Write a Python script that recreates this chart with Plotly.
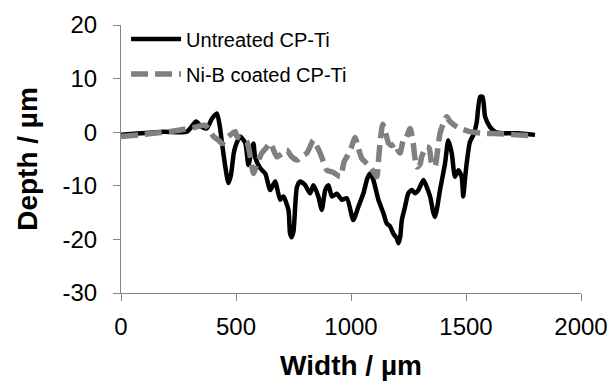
import plotly.graph_objects as go

# Untreated CP-Ti profile (width in µm, depth in µm)
untreated_x = [0, 84, 185, 287, 327, 350, 373, 395, 417, 430, 439, 452, 467, 478, 490, 497,
               518, 540, 554, 565, 576, 583, 605, 627, 649, 670, 692, 706, 728, 735, 742, 750,
               765, 779, 801, 822, 837, 858, 873, 888, 902, 917, 938, 960, 982, 1010, 1032,
               1054, 1071, 1083, 1097, 1119, 1141, 1155, 1170, 1184, 1199, 1206, 1214, 1221,
               1235, 1249, 1264, 1278, 1293, 1315, 1329, 1344, 1358, 1365, 1373, 1387, 1409,
               1423, 1438, 1452, 1467, 1481, 1488, 1495, 1503, 1517, 1532, 1546, 1561, 1572,
               1583, 1604, 1626, 1662, 1727, 1800]
untreated_y = [-0.5, -0.2, 0.1, 0.1, 2.0, 1.0, 0.7, 2.5, 3.5, 1.0, -2.0, -6.0, -9.5, -8.0, -4.0, -2.7,
               -0.8, -2.0, -6.1, -4.0, -2.1, -4.6, -6.7, -7.7, -10.8, -9.2, -12.6, -12.0, -14.5, -18.9, -19.6, -18.5,
               -10.2, -9.2, -9.9, -11.4, -9.9, -12.0, -14.5, -10.8, -9.9, -12.0, -11.5, -12.6, -12.3, -16.4, -13.9,
               -11.4, -8.6, -7.7, -8.9, -12.6, -15.1, -17.0, -17.6, -18.9, -19.8, -20.7, -19.5, -16.4,
               -13.9, -11.4, -10.8, -11.4, -10.8, -8.9, -10.2, -12.0, -15.0, -15.8, -14.5, -10.8, -5.8,
               -1.5, -3.9, -8.3, -7.1, -8.3, -12.0, -9.0, -5.8, -1.8, -0.5, 1.7, 6.6, 6.6,
               2.9, 1.0, 0.1, -0.2, -0.2, -0.5]

# Ni-B coated CP-Ti profile
coated_x = [0, 100, 243, 330, 366, 402, 424, 439, 467, 497, 504, 547, 560, 576, 590, 612, 630,
            649, 665, 678, 700, 721, 740, 765, 785, 808, 837, 850, 866, 880, 895, 924, 953,
            970, 982, 1000, 1018, 1032, 1047, 1054, 1083, 1100, 1112, 1120, 1126, 1138, 1150,
            1163, 1178, 1192, 1203, 1213, 1228, 1235, 1257, 1270, 1286, 1300, 1307, 1318, 1329,
            1340, 1351, 1365, 1380, 1387, 1400, 1416, 1430, 1450, 1474, 1517, 1575, 1648, 1720, 1800]
coated_y = [-0.8, -0.4, 0.3, 1.0, 1.3, -0.8, -1.5, -2.1, -0.8, 0.1, -0.8, -1.8, -4.0, -7.7, -6.0, -3.9, -3.0,
            -2.0, -3.5, -4.6, -4.0, -3.3, -4.5, -5.2, -4.5, -3.9, -1.5, -2.5, -3.9, -5.5, -7.1, -7.5, -8.3,
            -5.5, -4.6, -3.0, -1.0, -3.0, -4.9, -5.2, -6.5, -7.5, -8.3, -5.0, -2.1, 1.5, 0.0,
            -2.0, -2.5, -2.1, -3.3, -3.9, -1.5, -1.5, 0.7, -2.0, -6.5, -6.0, -4.6, -3.5, -2.7,
            -3.0, -5.8, -6.4, -2.1, -0.2, 1.5, 2.9, 2.0, 1.3, 0.7, 0.1, -0.2, -0.3, -0.5, -0.7]

x_ticks = [0, 500, 1000, 1500, 2000]
y_ticks = [-30, -20, -10, 0, 10, 20]

FONT = "Liberation Sans, Arial, sans-serif"
AXIS_COLOR = "#868686"

fig = go.Figure()
fig.add_trace(go.Scatter(
    x=untreated_x, y=untreated_y, mode="lines", name="Untreated CP-Ti",
    line=dict(color="#000000", width=4.5, shape="spline", smoothing=0.6),
    legend="legend",
))
fig.add_trace(go.Scatter(
    x=coated_x, y=coated_y, mode="lines", name="Ni-B coated CP-Ti",
    line=dict(color="#808080", width=5.5, shape="spline", smoothing=0.6, dash="17px,7px"),
    legend="legend2",
))

fig.update_layout(
    width=614, height=381,
    margin=dict(l=121, r=33, t=25, b=88, autoexpand=False),
    paper_bgcolor="white", plot_bgcolor="white",
    font=dict(family=FONT, color="#000000", size=24),
    legend=dict(x=0.011, y=0.948, xanchor="left", yanchor="middle", itemwidth=50,
                font=dict(size=20), bgcolor="rgba(0,0,0,0)"),
    legend2=dict(x=0.011, y=0.817, xanchor="left", yanchor="middle", itemwidth=50,
                 font=dict(size=20), bgcolor="rgba(0,0,0,0)"),
    showlegend=True,
)
fig.update_xaxes(
    range=[0, 2000], tickvals=x_ticks, ticktext=[str(v) for v in x_ticks],
    showgrid=False, zeroline=False, showline=True, linecolor=AXIS_COLOR, linewidth=1,
    ticks="outside", ticklen=7, tickcolor=AXIS_COLOR, tickwidth=1, automargin=False,
    tickfont=dict(size=24), ticklabelstandoff=5,
    title=dict(text="<b>Width / µm</b>", font=dict(size=28), standoff=16),
)
fig.update_yaxes(
    range=[-30, 20], tickvals=y_ticks, ticktext=[str(v) for v in y_ticks],
    showgrid=False, zeroline=False, showline=True, linecolor=AXIS_COLOR, linewidth=1,
    ticks="outside", ticklen=7, tickcolor=AXIS_COLOR, tickwidth=1, automargin=False,
    tickfont=dict(size=24), ticklabelstandoff=11,
    title=dict(text="<b>Depth / µm</b>", font=dict(size=28), standoff=16),
)

fig.write_html("out.html", config={"displayModeBar": False},
               post_script="document.body.style.margin='0';")
